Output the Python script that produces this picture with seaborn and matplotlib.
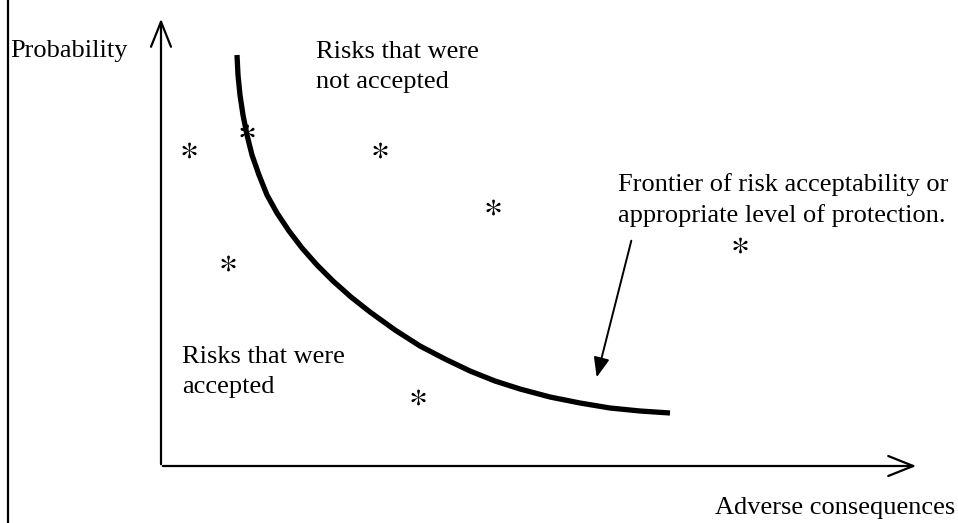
import matplotlib
matplotlib.use("Agg")
import matplotlib.pyplot as plt
import seaborn as sns
import pandas as pd

# ---- data (diagram units: pixels of the 958x523 canvas, y downward) ----
frontier_x = [237, 238, 240, 243, 247, 252, 259, 267, 277, 289, 302, 317, 333, 351,
              370, 395, 420, 445, 470, 495, 520, 550, 580, 610, 640, 670]
frontier_y = [55, 75, 95, 115, 135, 155, 175, 195, 213, 231, 248, 265, 281, 297,
              312, 330, 346, 359, 371, 381, 389, 397, 403, 408, 411, 413]
risk_x = [189, 247, 380, 493, 228, 740, 418]
risk_y = [150, 132, 150, 207, 263, 245, 397]

sns.set_theme(style="white")
plt.rcParams["font.family"] = ["Liberation Serif", "DejaVu Serif"]
plt.rcParams["mathtext.fontset"] = "stix"
plt.rcParams["text.color"] = "black"

fig = plt.figure(figsize=(9.58, 5.23), dpi=100)
ax = fig.add_axes([0, 0, 1, 1])
ax.set_xlim(0, 958)
ax.set_ylim(523, 0)
ax.axis("off")

# left border
ax.plot([8, 8], [0, 523], color="black", lw=1.6, solid_capstyle="butt")

# axes arrows
ax.annotate("", xy=(161, 16), xytext=(161, 467),
            arrowprops=dict(arrowstyle="->,head_length=1.5,head_width=0.6", lw=1.6, color="black"))
ax.annotate("", xy=(919, 466), xytext=(160, 466),
            arrowprops=dict(arrowstyle="->,head_length=1.5,head_width=0.6", lw=1.6, color="black"))

# frontier curve
df_curve = pd.DataFrame({"x": frontier_x, "y": frontier_y})
sns.lineplot(data=df_curve, x="x", y="y", ax=ax, color="black", lw=3.8, sort=False,
             solid_joinstyle="round", solid_capstyle="butt")

# risks
df_risk = pd.DataFrame({"x": risk_x, "y": risk_y})
sns.scatterplot(data=df_risk, x="x", y="y", ax=ax, marker="$*$", s=130, color="black",
                linewidth=0)

# pointer arrow
ax.annotate("", xy=(596, 380), xytext=(632, 238),
            arrowprops=dict(arrowstyle="-|>,head_length=1.0,head_width=0.4", lw=1.4, color="black"))

fs = 19
ls = 1.42
ax.text(10, 51, "Probability", fontsize=fs, va="center", ha="left", color="black")
ax.text(316, 67, "Risks that were\nnot accepted", fontsize=fs, va="center", ha="left",
        linespacing=ls, color="black")
ax.text(618, 200, "Frontier of risk acceptability or\nappropriate level of protection.", fontsize=fs,
        va="center", ha="left", linespacing=ls, color="black")
ax.text(182, 372, "Risks that were\naccepted", fontsize=fs, va="center", ha="left",
        linespacing=ls, color="black")
ax.text(955, 508, "Adverse consequences", fontsize=fs, va="center", ha="right", color="black")
ax.set_xlabel("")
ax.set_ylabel("")

fig.savefig("out.png", dpi=100)
